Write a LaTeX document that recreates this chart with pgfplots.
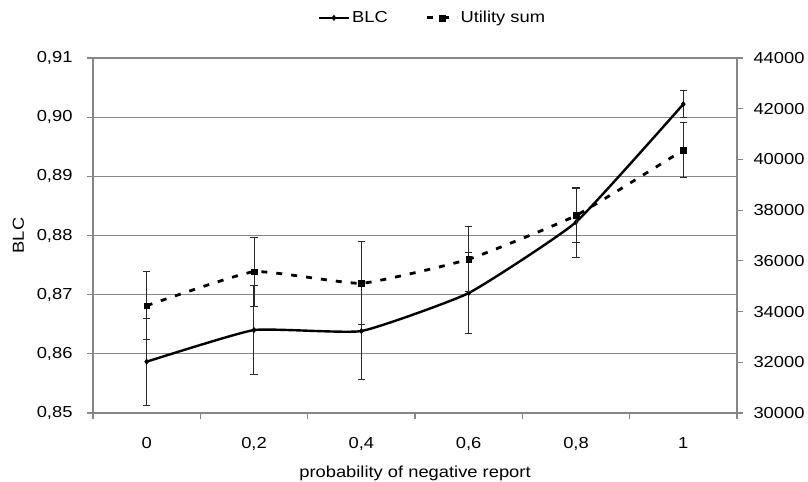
\documentclass[border=0pt]{standalone}
\usepackage{fontspec}
\setmainfont{Liberation Sans}[FakeStretch=1.15]
\usepackage{pgfplots}
\usepackage{pgfplotstable}
\pgfplotsset{compat=1.18}

\definecolor{axisgray}{RGB}{134,134,134}
\definecolor{errgray}{RGB}{40,40,40}

% BLC (left axis) and utility sum (right axis), mean and error half-width
\pgfplotstableread{
x  y        err
0  0.85867  0.00732
1  0.86402  0.00746
2  0.86385  0.00816
3  0.87027  0.00680
4  0.88226  0.00590
5  0.90220  0.00225
}\blcdata

\pgfplotstableread{
x  y      err
0  34232  1340
1  35572  1368
2  35115  1644
3  36065  1282
4  37789  1053
5  40372  1092
}\utildata

\pgfplotsset{
  common/.style={
    at={(0,0)}, anchor=south west,
    scale only axis, width=644bp, height=355bp,
    xmin=-0.5, xmax=5.5,
    tick align=outside,
    major tick length=6bp,
    every tick/.style={axisgray, line width=1.1bp},
    axis line style={axisgray, line width=1.1bp},
    /pgf/number format/assume math mode=true,
    tick label style={font=\fontsize{16}{19}\selectfont},
    label style={font=\fontsize{16}{19}\selectfont},
  },
  blcline/.style={black, line width=2.4bp, smooth, tension=0.25,
    mark=diamond*, mark size=2.6bp, mark options={solid, line width=0.6bp}},
  utilline/.style={black, line width=2.8bp, smooth, tension=0.25,
    dash pattern=on 6bp off 9bp,
    mark=square*, mark size=2.9bp, mark options={solid, line width=0.4bp}},
  ebars/.style={
    error bars/.cd, y dir=both, y explicit,
    error bar style={errgray, line width=1bp, solid},
    error mark options={rotate=90, errgray, line width=1bp, mark size=3.8bp, solid},
  },
}

\begin{document}
\begin{tikzpicture}
\path[use as bounding box] (-93bp,-69bp) rectangle (715bp,413bp);

\begin{axis}[
  common,
  ymin=0.85, ymax=0.91,
  ytick={0.85,0.86,...,0.91},
  axis x line*=bottom, axis y line*=left,
  ymajorgrids,
  grid style={axisgray, line width=1.1bp},
  xtick={-0.5,0.5,...,5.5}, xticklabels={},
  extra x ticks={0,1,2,3,4,5},
  extra x tick labels={0,{0,2},{0,4},{0,6},{0,8},1},
  extra x tick style={major tick length=0pt,
    xticklabel style={yshift=-21bp}},
  yticklabel style={xshift=-11bp, /pgf/number format/.cd, use comma, fixed, fixed zerofill, precision=2},
  xlabel={probability of negative report},
  ylabel={BLC},
  xlabel style={at={(axis description cs:0.5,-0.170)}, anchor=center},
  ylabel style={at={(axis description cs:-0.116,0.5)}, anchor=center},
]
\addplot[blcline, ebars] table[x=x, y=y, y error=err] {\blcdata};
\end{axis}

\begin{axis}[
  common,
  ymin=30000, ymax=44000,
  ytick={30000,32000,...,44000},
  scaled y ticks=false,
  yticklabel style={xshift=7bp, /pgf/number format/.cd, fixed, set thousands separator={}},
  axis y line*=right, axis x line=none,
  legend columns=2,
  legend style={draw=none, fill=none, at={(axis description cs:0.527,1.113)},
    anchor=center, font=\fontsize{16}{19}\selectfont,
    /tikz/every even column/.append style={column sep=36bp}},
  legend image code/.code={%
    \draw[mark repeat=2, mark phase=2, #1] plot coordinates {(0bp,0bp) (15bp,0bp) (30bp,0bp)};},
]
\addlegendimage{blcline}
\addlegendentry{BLC}
\addplot[utilline, ebars] table[x=x, y=y, y error=err] {\utildata};
\addlegendentry{Utility sum}
\end{axis}
\end{tikzpicture}
\end{document}
